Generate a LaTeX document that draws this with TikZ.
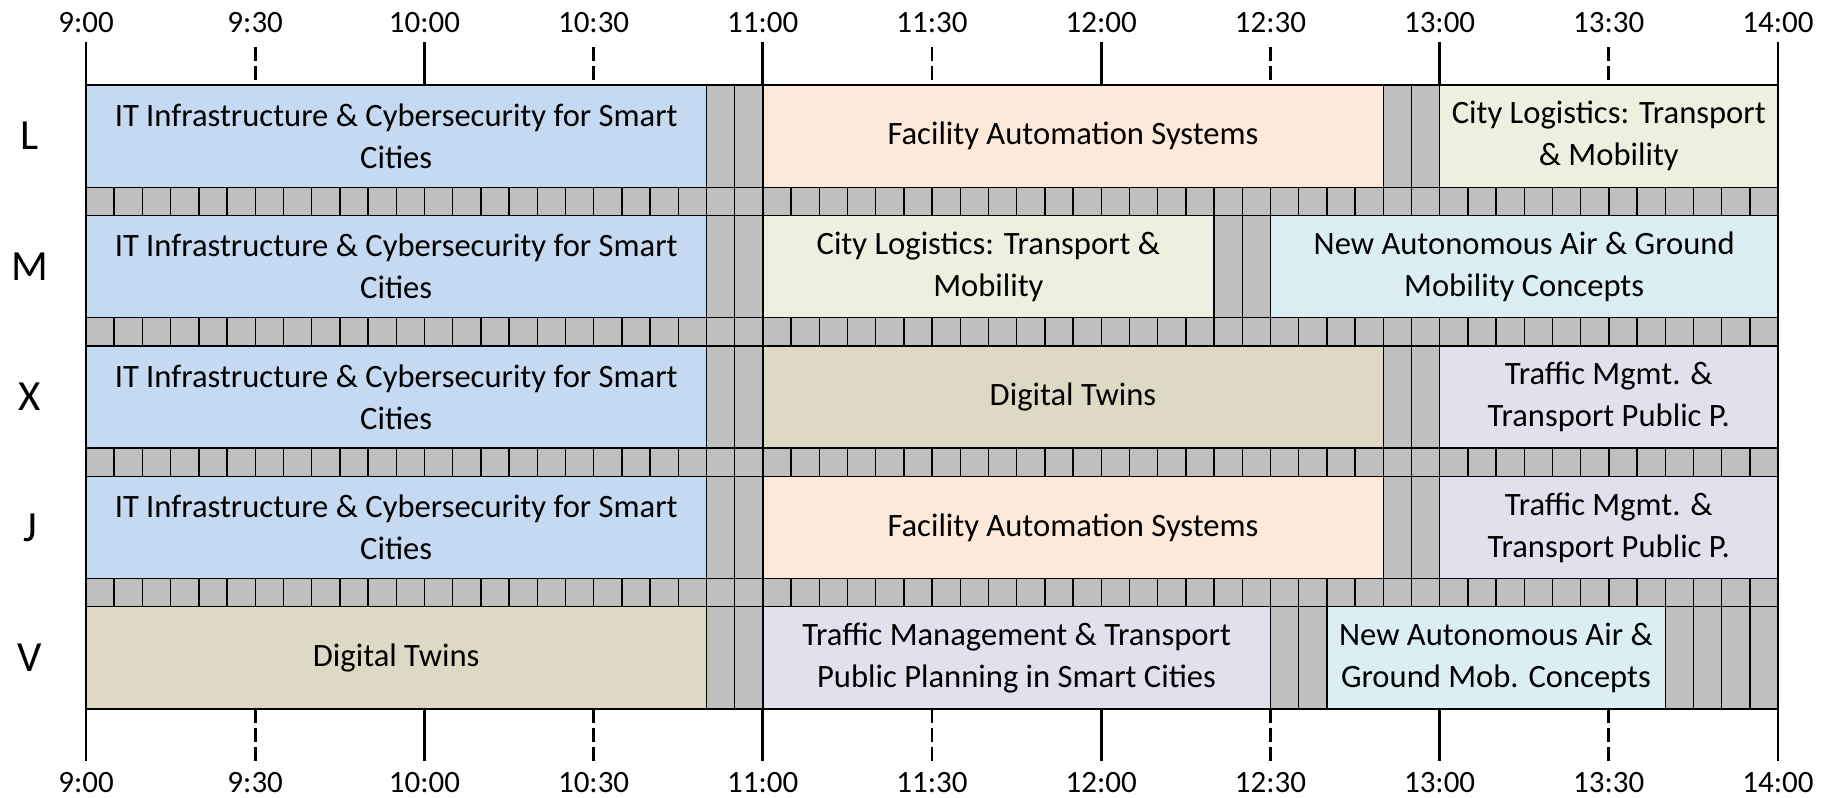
\documentclass[tikz,border=0pt]{standalone}
\usepackage{fontspec}
\setmainfont{Carlito}
\definecolor{cblue}{HTML}{C5D9F1}
\definecolor{cpeach}{HTML}{FDE9D9}
\definecolor{cgreen}{HTML}{EBF1DE}
\definecolor{ccyan}{HTML}{DAEEF3}
\definecolor{ctan}{HTML}{DDD9C4}
\definecolor{clav}{HTML}{E4DFEC}
\definecolor{cgray}{HTML}{BFBFBF}
\newcommand\sessbox[6]{%
  \node[sess, fill=#5, minimum width={(#4-#3)*14.1pt}] (#1) at ({(#3+#4)/2}, {85+#2*130.43+51.14}) {#6};}
\newcommand\graycells[3]{%
  \pgfmathtruncatemacro\glast{#3-1}%
  \foreach \i in {#2,...,\glast}{%
    \draw[graycell] (\i,{85+#1*130.43}) rectangle (\i+1,{85+#1*130.43+102.28});}}
\begin{document}
\begin{tikzpicture}[x=14.1pt,y=-0.5pt,
  sess/.style={draw=black, line width=0.7pt, align=center, font=\fontsize{16.3}{21}\selectfont, inner sep=0pt, minimum height=51.14pt},
  graycell/.style={draw=black, fill=cgray, line width=0.7pt},
  rowlab/.style={font=\fontsize{21.5}{24}\selectfont},
  timelab/.style={font=\fontsize{15.5}{18}\selectfont},
  hourtick/.style={line width=1.4pt},
  halftick/.style={line width=1.4pt, dash pattern=on 7pt off 2.5pt}]
\useasboundingbox ({-86/28.2},0) rectangle ({(1827-86)/28.2},798);
% gap strips
\foreach \k in {0,...,3}{
  \foreach \i in {0,...,59}{
    \draw[graycell] (\i,{85+\k*130.43+102.28}) rectangle (\i+1,{85+\k*130.43+130.43});}}
% row L
\sessbox{l1}{0}{0}{22}{cblue}{IT Infrastructure \& Cybersecurity for Smart\\Cities}
\graycells{0}{22}{24}
\sessbox{l2}{0}{24}{46}{cpeach}{Facility Automation Systems}
\graycells{0}{46}{48}
\sessbox{l3}{0}{48}{60}{cgreen}{City Logistics: Transport\\\& Mobility}
% row M
\sessbox{m1}{1}{0}{22}{cblue}{IT Infrastructure \& Cybersecurity for Smart\\Cities}
\graycells{1}{22}{24}
\sessbox{m2}{1}{24}{40}{cgreen}{City Logistics: Transport \&\\Mobility}
\graycells{1}{40}{42}
\sessbox{m3}{1}{42}{60}{ccyan}{New Autonomous Air \& Ground\\Mobility Concepts}
% row X
\sessbox{x1}{2}{0}{22}{cblue}{IT Infrastructure \& Cybersecurity for Smart\\Cities}
\graycells{2}{22}{24}
\sessbox{x2}{2}{24}{46}{ctan}{Digital Twins}
\graycells{2}{46}{48}
\sessbox{x3}{2}{48}{60}{clav}{Traffic Mgmt. \&\\Transport Public P.}
% row J
\sessbox{j1}{3}{0}{22}{cblue}{IT Infrastructure \& Cybersecurity for Smart\\Cities}
\graycells{3}{22}{24}
\sessbox{j2}{3}{24}{46}{cpeach}{Facility Automation Systems}
\graycells{3}{46}{48}
\sessbox{j3}{3}{48}{60}{clav}{Traffic Mgmt. \&\\Transport Public P.}
% row V
\sessbox{v1}{4}{0}{22}{ctan}{Digital Twins}
\graycells{4}{22}{24}
\sessbox{v2}{4}{24}{42}{clav}{Traffic Management \& Transport\\Public Planning in Smart Cities}
\graycells{4}{42}{44}
\sessbox{v3}{4}{44}{56}{ccyan}{New Autonomous Air \&\\Ground Mob. Concepts}
\graycells{4}{56}{60}
% row labels
\foreach \lab/\k in {L/0,M/1,X/2,J/3,V/4}{
  \node[rowlab] (row\lab) at ({(30-86)/28.2},{85+\k*130.43+51.14}) {\lab};}
% ticks and time labels
\foreach \t/\lab [count=\n from 0] in {0/9:00,6/9:30,12/10:00,18/10:30,24/11:00,30/11:30,36/12:00,42/12:30,48/13:00,54/13:30,60/14:00}{
  \pgfmathtruncatemacro\odd{mod(\n,2)}
  \ifnum\odd=0
    \draw[hourtick] (\t,42) -- (\t,85);
    \draw[hourtick] (\t,709) -- (\t,761);
  \else
    \draw[halftick] (\t,47) -- (\t,85);
    \draw[halftick] (\t,709) -- (\t,761);
  \fi
  \node[timelab] (top\n) at (\t,23) {\lab};
  \node[timelab] (bot\n) at (\t,783) {\lab};
}
\end{tikzpicture}
\end{document}
